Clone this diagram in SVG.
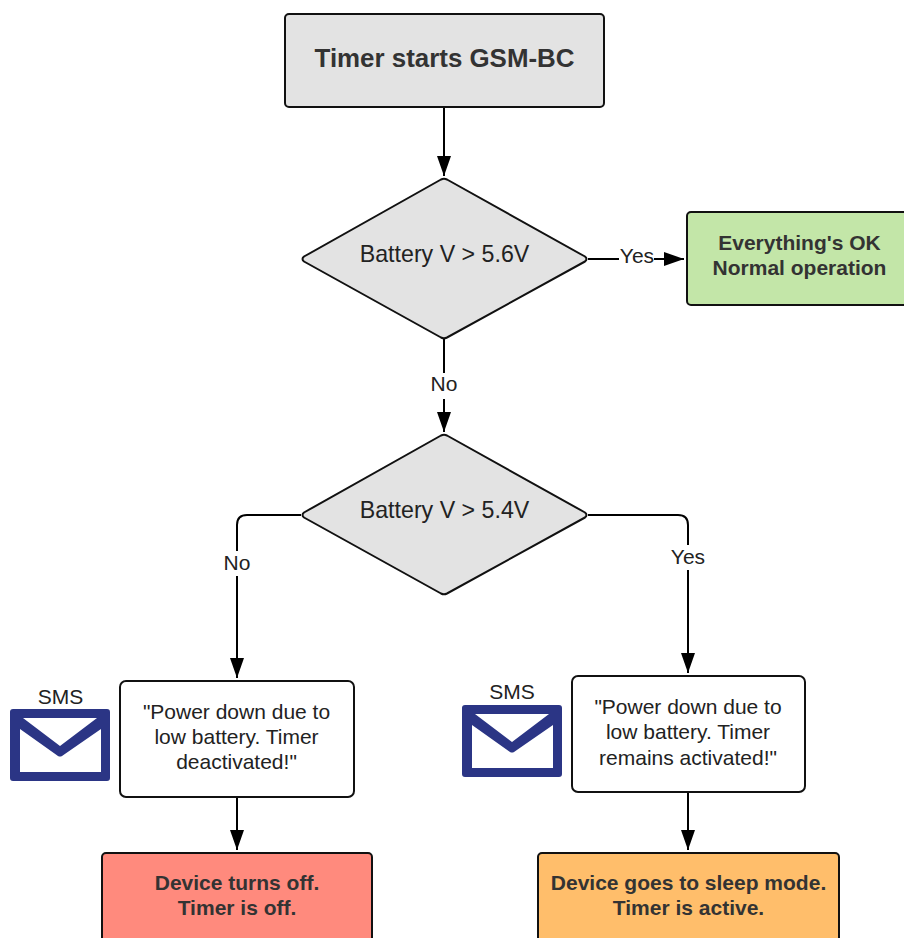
<svg xmlns="http://www.w3.org/2000/svg" width="904" height="938" viewBox="0 0 904 938">
<defs>
<marker id="a" markerUnits="userSpaceOnUse" markerWidth="20" markerHeight="14" refX="20" refY="7" orient="auto"><path d="M0 0L20 7L0 14Z" fill="#000"/></marker>
<path id="env" fill-rule="evenodd" fill="#2b3585" d="M3 0H97Q100 0 100 3V69Q100 72 97 72H3Q0 72 0 69V3Q0 0 3 0ZM13 9L50 37L87 9ZM10 20V63H91V20L52 47Q50 48 48 47Z"/>
</defs>
<style>
text{font-family:"Liberation Sans",Arial,sans-serif;text-anchor:middle;fill:#222}
.b{stroke:#111;stroke-width:2;stroke-linejoin:round}
.n{font-size:21px}
.d{font-size:23.2px}
.m{font-size:21px;font-weight:bold;fill:#333}
.c{fill:none;stroke:#000;stroke-width:2;marker-end:url(#a)}
</style>
<rect width="904" height="938" fill="#fff"/>
<g id="connectors">
<path class="c" d="M444 107V176"/>
<path class="c" d="M588 259H684"/>
<path class="c" d="M444 339V432"/>
<path class="c" d="M301 515H247Q237 515 237 525V678"/>
<path class="c" d="M588 515H678Q688 515 688 525V673"/>
<path class="c" d="M237 797V850"/>
<path class="c" d="M688 792V850"/>
<g class="n">
<rect x="619" y="245" width="35" height="24" fill="#fff"/><text x="637" y="263">Yes</text>
<rect x="430" y="373" width="29" height="26" fill="#fff"/><text x="444" y="391">No</text>
<rect x="222" y="551" width="30" height="25" fill="#fff"/><text x="237" y="570">No</text>
<rect x="670" y="545" width="36" height="25" fill="#fff"/><text x="688" y="564">Yes</text>
</g>
</g>
<g id="start"><rect class="b" x="285" y="14" width="319" height="93" rx="4" fill="#e3e3e3"/><text x="444.500" y="67" font-size="25.900" font-weight="bold" style="fill:#333">Timer starts GSM-BC</text></g>
<g id="d1"><path class="b" d="M441 179.500Q444 178 447 179.500L585 256.500Q588 259 585 261.500L447 337.500Q444 339 441 337.500L304 261.500Q301 259 304 256.500Z" fill="#e3e3e3"/><text class="d" x="444.500" y="262">Battery V &gt; 5.6V</text></g>
<g id="ok"><rect class="b" x="687" y="212" width="220" height="93" rx="4" fill="#c3e6a8"/><text class="m" x="799.500" y="250">Everything's OK</text><text class="m" x="799.500" y="275">Normal operation</text></g>
<g id="d2"><path class="b" d="M441 435.500Q444 434 447 435.500L585 512.500Q588 515 585 517.500L447 593.500Q444 595 441 593.500L304 517.500Q301 515 304 512.500Z" fill="#e3e3e3"/><text class="d" x="444.500" y="518">Battery V &gt; 5.4V</text></g>
<g id="sms1"><text class="n" x="60.500" y="704">SMS</text><use href="#env" x="10" y="709"/></g>
<g id="msg1"><rect class="b" x="120" y="681" width="234" height="116" rx="6" fill="#fff"/><text class="n" x="236.500" y="719">"Power down due to</text><text class="n" x="236.500" y="744">low battery. Timer</text><text class="n" x="236.500" y="769">deactivated!"</text></g>
<g id="sms2"><text class="n" x="512" y="699">SMS</text><use href="#env" x="462" y="705"/></g>
<g id="msg2"><rect class="b" x="572" y="676" width="233" height="116" rx="6" fill="#fff"/><text class="n" x="688" y="714">"Power down due to</text><text class="n" x="688" y="739">low battery. Timer</text><text class="n" x="688" y="765">remains activated!"</text></g>
<g id="off"><rect class="b" x="102" y="853" width="270" height="100" rx="4" fill="#ff8a7d"/><text class="m" x="237" y="890">Device turns off.</text><text class="m" x="237" y="915">Timer is off.</text></g>
<g id="sleep"><rect class="b" x="538" y="853" width="301" height="100" rx="4" fill="#ffbe6b"/><text class="m" x="688.500" y="890">Device goes to sleep mode.</text><text class="m" x="688.500" y="915">Timer is active.</text></g>
</svg>
